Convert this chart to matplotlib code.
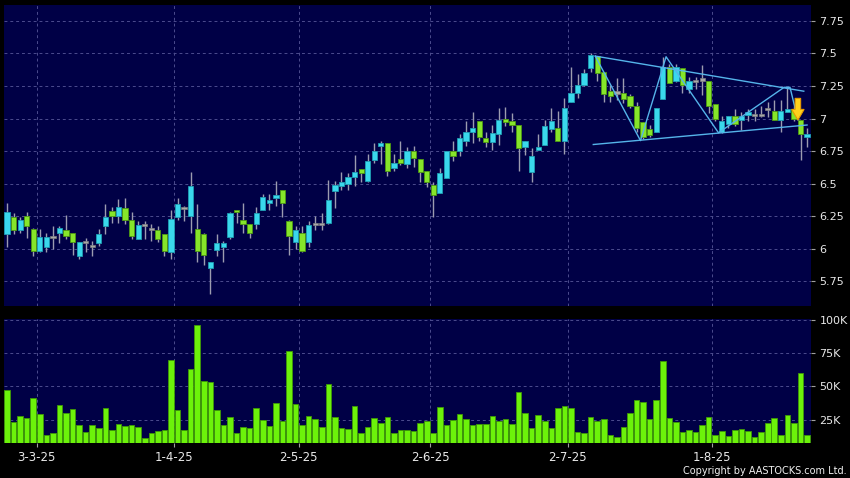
import numpy as np
import matplotlib.pyplot as plt
from matplotlib.patches import Polygon

# daily candles, index 0 = 24-2-25 ... 122 = 21-8-25
open_ = [6.11, 6.24, 6.14, 6.25, 6.15, 5.98, 6.01, 6.09, 6.12, 6.14,
         6.12, 5.94, 6.05, 6.02, 6.04, 6.17, 6.29, 6.25, 6.31, 6.22,
         6.07, 6.18, 6.15, 6.14, 6.11, 5.97, 6.24, 6.31, 6.25, 6.15,
         6.11, 5.85, 5.99, 6.01, 6.09, 6.30, 6.22, 6.19, 6.19, 6.30,
         6.35, 6.39, 6.45, 6.21, 6.05, 6.12, 6.05, 6.19, 6.19, 6.20,
         6.44, 6.48, 6.50, 6.55, 6.61, 6.52, 6.68, 6.79, 6.81, 6.62,
         6.69, 6.65, 6.75, 6.69, 6.60, 6.49, 6.43, 6.54, 6.75, 6.75,
         6.83, 6.90, 6.98, 6.85, 6.82, 6.88, 7.00, 6.98, 6.95, 6.78,
         6.59, 6.76, 6.80, 6.92, 6.93, 6.83, 7.13, 7.20, 7.26, 7.39,
         7.48, 7.36, 7.21, 7.20, 7.20, 7.17, 7.10, 6.97, 6.92, 6.90,
         7.15, 7.40, 7.29, 7.39, 7.23, 7.29, 7.30, 7.29, 7.11, 6.90,
         6.96, 7.02, 6.99, 7.03, 7.03, 7.03, 7.07, 7.06, 6.99, 7.05,
         7.07, 6.99, 6.86]
high = [6.35, 6.27, 6.24, 6.28, 6.16, 6.15, 6.12, 6.17, 6.17, 6.26,
        6.12, 6.05, 6.08, 6.06, 6.15, 6.34, 6.32, 6.38, 6.39, 6.28,
        6.21, 6.21, 6.19, 6.17, 6.11, 6.30, 6.39, 6.33, 6.59, 6.34,
        6.12, 5.90, 6.11, 6.06, 6.28, 6.30, 6.35, 6.19, 6.32, 6.42,
        6.42, 6.52, 6.45, 6.22, 6.17, 6.17, 6.21, 6.25, 6.27, 6.53,
        6.52, 6.59, 6.58, 6.72, 6.61, 6.73, 6.81, 6.83, 6.81, 6.73,
        6.83, 6.78, 6.79, 6.69, 6.60, 6.51, 6.62, 6.75, 6.83, 6.88,
        6.98, 7.05, 6.98, 6.90, 6.95, 7.08, 7.09, 7.04, 6.95, 6.83,
        6.77, 6.88, 6.99, 7.08, 7.06, 7.16, 7.40, 7.34, 7.38, 7.50,
        7.48, 7.36, 7.26, 7.31, 7.31, 7.19, 7.13, 6.97, 6.95, 7.08,
        7.47, 7.42, 7.42, 7.39, 7.32, 7.32, 7.41, 7.29, 7.11, 7.02,
        7.02, 7.07, 7.05, 7.07, 7.07, 7.10, 7.13, 7.14, 7.14, 7.24,
        7.10, 6.99, 6.93]
low = [6.01, 6.11, 6.12, 6.08, 5.94, 5.97, 5.97, 6.00, 6.04, 6.07,
       5.95, 5.92, 5.97, 5.94, 6.02, 6.11, 6.20, 6.20, 6.19, 6.07,
       6.07, 6.07, 6.06, 6.05, 5.94, 5.92, 6.22, 6.21, 6.12, 5.90,
       5.87, 5.65, 5.94, 5.90, 6.07, 6.20, 6.12, 6.08, 6.15, 6.30,
       6.30, 6.33, 6.24, 5.95, 6.00, 5.97, 6.01, 6.14, 6.14, 6.19,
       6.31, 6.45, 6.45, 6.48, 6.51, 6.51, 6.66, 6.65, 6.56, 6.60,
       6.64, 6.62, 6.63, 6.51, 6.47, 6.24, 6.43, 6.54, 6.67, 6.71,
       6.79, 6.81, 6.83, 6.78, 6.76, 6.80, 6.94, 6.90, 6.60, 6.72,
       6.51, 6.76, 6.80, 6.90, 6.83, 6.73, 7.13, 7.16, 7.25, 7.36,
       7.29, 7.13, 7.13, 7.14, 7.12, 7.08, 6.90, 6.84, 6.86, 6.90,
       7.15, 7.27, 7.28, 7.20, 7.20, 7.23, 7.18, 7.04, 6.98, 6.89,
       6.93, 6.94, 6.91, 6.98, 6.98, 7.01, 7.01, 6.99, 6.90, 7.05,
       6.98, 6.68, 6.78]
close = [6.28, 6.14, 6.22, 6.17, 5.98, 6.09, 6.09, 6.09, 6.16, 6.10,
         6.05, 6.05, 6.05, 6.02, 6.11, 6.24, 6.25, 6.32, 6.22, 6.10,
         6.18, 6.18, 6.15, 6.07, 5.98, 6.23, 6.34, 6.31, 6.48, 5.98,
         5.95, 5.90, 6.04, 6.04, 6.27, 6.28, 6.19, 6.12, 6.27, 6.40,
         6.37, 6.41, 6.35, 6.10, 6.14, 5.98, 6.18, 6.19, 6.19, 6.37,
         6.49, 6.51, 6.55, 6.59, 6.58, 6.67, 6.75, 6.81, 6.60, 6.66,
         6.66, 6.75, 6.70, 6.59, 6.51, 6.41, 6.58, 6.75, 6.71, 6.85,
         6.90, 6.93, 6.86, 6.82, 6.89, 6.99, 6.97, 6.95, 6.77, 6.83,
         6.71, 6.78, 6.94, 6.98, 6.83, 7.08, 7.20, 7.26, 7.35, 7.49,
         7.35, 7.19, 7.17, 7.20, 7.15, 7.10, 6.93, 6.86, 6.87, 7.08,
         7.40, 7.27, 7.40, 7.26, 7.29, 7.29, 7.30, 7.10, 7.00, 6.98,
         7.02, 6.96, 7.02, 7.05, 7.03, 7.03, 7.07, 6.99, 7.06, 7.07,
         7.00, 6.88, 6.88]
# volume in thousands of shares
volume = [47.5, 23.25, 28, 26, 41.25, 29, 13.25, 15, 36, 30,
          33.25, 21, 16, 20.75, 19, 33.75, 17.25, 22, 20, 21,
          19.5, 11.5, 14.75, 16.75, 17.25, 69.75, 32.5, 17.5, 63, 96.25,
          54.5, 53.5, 32.25, 21.25, 26.75, 15, 19.5, 18.75, 33.75, 24.75,
          20, 37.5, 24.25, 76.5, 36.5, 21, 27.5, 25.75, 19.75, 52,
          26.75, 19, 18.25, 35.25, 14.75, 19.75, 26, 22.75, 27, 15,
          17, 17.5, 16.75, 22.5, 24.25, 15, 34.25, 21.25, 24.5, 29,
          25.75, 20.75, 21.5, 21.75, 27.75, 23.75, 25.5, 21.5, 45.75, 29.75,
          19, 28.5, 24.25, 19, 34, 35.25, 34, 16, 15, 27.25,
          23.75, 25.75, 13.5, 12.25, 19.25, 30, 39.75, 38.5, 25.75, 39.5,
          69.25, 26.5, 23.5, 16, 17, 15.5, 20.75, 27.25, 13.75, 16.25,
          12.75, 17.25, 18.25, 16.75, 12.25, 16, 22.75, 26, 13.5, 28.75,
          22.5, 60.25, 13.75]

month_labels = ['3-3-25', '1-4-25', '2-5-25', '2-6-25', '2-7-25', '1-8-25']
month_first = [5, 26, 45, 65, 86, 108]   # bar index of first trading day

# triangle / zigzag drawn on the chart (bar index, price)
upper_line = ([89.7, 121.5], [7.48, 7.21])
lower_line = ([89.4, 122.0], [6.80, 6.95])
zigzag = ([89.7, 96.6, 100.5, 108.5, 118.5, 119.4, 120.6],
          [7.48, 6.83, 7.475, 6.89, 7.24, 7.24, 6.99])

o = np.array(open_); h = np.array(high); l = np.array(low); c = np.array(close)
x = np.arange(len(o))

NAVY = '#000046'
GRID = '#4c4c8e'
UP = '#3ad8ec'
DOWN = '#86e52a'

W, H = 850, 478
fig = plt.figure(figsize=(W / 100, H / 100), dpi=100, facecolor='black')
ax = fig.add_axes([4 / W, 1 - 306 / H, 807 / W, 301 / H])
axv = fig.add_axes([4 / W, 1 - 443 / H, 807 / W, 124 / H], sharex=ax)

for a in (ax, axv):
    a.set_facecolor(NAVY)
    for s in a.spines.values():
        s.set_visible(False)
    a.grid(True, color=GRID, linestyle=(0, (3, 3)), linewidth=0.7)
    a.set_axisbelow(True)
    a.yaxis.tick_right()
    a.tick_params(axis='y', colors='#a0a0a0', labelcolor='#e8e8e8', length=3,
                  width=0.8, pad=3, labelsize=8)

bounds = [m - 0.5 for m in month_first]
ax.set_xlim(-0.46, 122.6)
ax.set_xticks(bounds)
ax.tick_params(axis='x', length=0, labelbottom=False)
axv.tick_params(axis='x', colors='#a0a0a0', labelcolor='#e8e8e8', length=3,
                width=0.8, pad=3, labelsize=8.5)
axv.set_xticks(bounds)
axv.set_xticklabels(month_labels)

# candles
ax.vlines(x, l, h, color='#9c9cb0', linewidth=1, zorder=2)
up = c > o
dn = c < o
dj = c == o
bw = 0.8
ax.bar(x[up], (c - o)[up], bottom=o[up], width=bw, color=UP,
       edgecolor='#1f9fb4', linewidth=0.6, zorder=3)
ax.bar(x[dn], (o - c)[dn], bottom=c[dn], width=bw, color=DOWN,
       edgecolor='#4d9a12', linewidth=0.6, zorder=3)
ax.bar(x[dj], 0.016, bottom=o[dj] - 0.008, width=bw, color='#a8a8a8',
       edgecolor='#808080', linewidth=0.5, zorder=3)

ax.plot(*upper_line, color='#55b4ea', linewidth=1, zorder=4)
ax.plot(*lower_line, color='#55b4ea', linewidth=1, zorder=4)
ax.plot(*zigzag, color='#55b4ea', linewidth=1, zorder=4)

# down arrow marker at the breakout
ax_x, a_top, a_neck, a_tip = 120.6, 7.155, 7.07, 6.988
arrow = Polygon([(ax_x - 0.42, a_top), (ax_x + 0.42, a_top), (ax_x + 0.42, a_neck),
                 (ax_x + 0.95, a_neck), (ax_x, a_tip), (ax_x - 0.95, a_neck),
                 (ax_x - 0.42, a_neck)], closed=True, facecolor='#ffd21c',
                edgecolor='#e89a00', linewidth=0.8, zorder=6)
ax.add_patch(arrow)

ax.set_ylim(5.558, 7.873)
pt = np.arange(5.75, 7.76, 0.25)
ax.set_yticks(pt)
ax.set_yticklabels([f'{v:g}' for v in pt])

# volume
axv.bar(x, volume, width=0.85, color='#6cf20a', edgecolor='#3f9a06',
        linewidth=0.6, zorder=3)
axv.set_ylim(7.5, 100.75)
axv.set_yticks([25, 50, 75, 100])
axv.set_yticklabels(['25K', '50K', '75K', '100K'])

fig.text(847 / W, 1 - 471 / H, 'Copyright by AASTOCKS.com Ltd.', ha='right',
         va='center', fontsize=7, color='#f0f0f0')

fig.savefig('out.png', dpi=100, facecolor='black')
